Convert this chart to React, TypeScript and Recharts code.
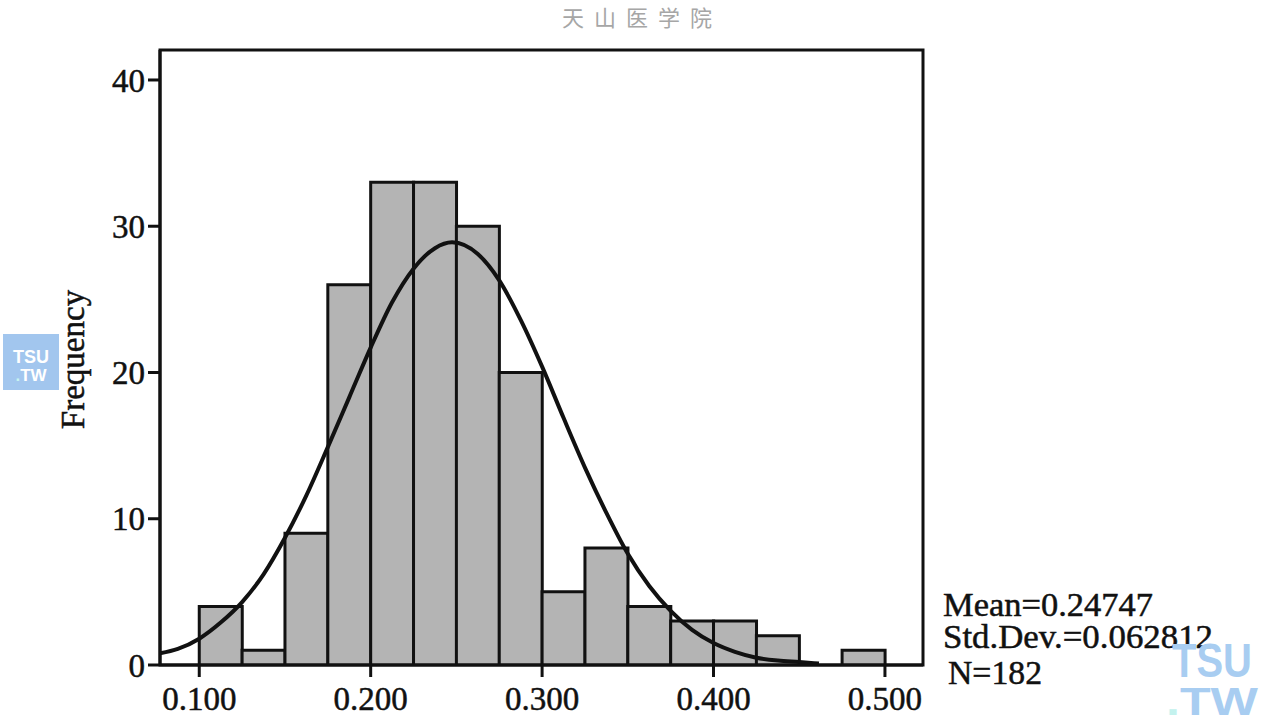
import React from 'react';
import { ComposedChart, Bar, Line, XAxis, YAxis, ReferenceArea } from 'recharts';

// histogram bins (width 0.025), midpoints and counts
const binMids = [
  0.1125, 0.1375, 0.1625, 0.1875, 0.2125, 0.2375, 0.2625, 0.2875,
  0.3125, 0.3375, 0.3625, 0.3875, 0.4125, 0.4375, 0.4625, 0.4875,
];
const binCounts = [4, 1, 9, 26, 33, 33, 30, 20, 5, 8, 4, 3, 3, 2, 0, 1];

// fitted normal curve
const curveX = [
  0.0771, 0.0875, 0.1, 0.1125, 0.125, 0.1375, 0.15, 0.1625, 0.175, 0.1875,
  0.2, 0.2125, 0.225, 0.2375, 0.2475, 0.2625, 0.275, 0.2875, 0.3, 0.3125,
  0.325, 0.3375, 0.35, 0.3625, 0.375, 0.3875, 0.4, 0.4125, 0.425, 0.4375,
  0.45, 0.4615,
];
const curveY = [
  0.8, 1.1, 1.8, 2.9, 4.3, 6.2, 8.7, 11.6, 14.9, 18.3,
  21.7, 24.8, 27.1, 28.5, 28.9, 28.1, 26.3, 23.6, 20.4, 16.9,
  13.5, 10.4, 7.6, 5.4, 3.7, 2.4, 1.5, 0.9, 0.5, 0.3,
  0.2, 0.1,
];

const xTicks = [0.1, 0.2, 0.3, 0.4, 0.5];
const yTicks = [0, 10, 20, 30, 40];
const xDomain = [0.0771, 0.5222];
const yDomain = [0, 42.05];

const statLines = ['Mean=0.24747', 'Std.Dev.=0.062812', 'N=182'];

const bins = binMids.map((mid, i) => ({ mid, count: binCounts[i] }));
const curve = curveX.map((x, i) => ({ x, y: curveY[i] }));

const serif = '"Liberation Serif", "Times New Roman", serif';
// a thin outline makes the regular serif look as heavy as the original
const tickStyle = { fontFamily: serif, fontSize: 33, fill: '#111', stroke: '#111', strokeWidth: 0.5 };

function FreqLabel({ viewBox }: any) {
  const cx = viewBox.x + 13;
  const cy = viewBox.y + viewBox.height / 2 + 2;
  return (
    <text
      x={cx}
      y={cy}
      transform={`rotate(-90 ${cx} ${cy})`}
      textAnchor="middle"
      dominantBaseline="central"
      style={{ fontFamily: serif, fontSize: 33, fill: '#111', stroke: '#111', strokeWidth: 0.5 }}
    >
      Frequency
    </text>
  );
}

export default function App() {
  return (
    <div style={{ position: 'absolute', left: 0, top: 0, width: 1276, height: 727, background: '#fff' }}>
      <ComposedChart
        width={1276}
        height={727}
        data={bins}
        margin={{ top: 50, right: 353, bottom: 0, left: 60 }}
        barCategoryGap={0}
        barGap={0}
      >
        <XAxis
          xAxisId="bins"
          dataKey="mid"
          type="number"
          domain={xDomain}
          allowDataOverflow
          ticks={xTicks}
          tickFormatter={(v: number) => v.toFixed(3)}
          height={62}
          tickSize={12}
          tickMargin={10}
          tick={tickStyle}
          axisLine={{ stroke: '#111', strokeWidth: 3 }}
          tickLine={{ stroke: '#111', strokeWidth: 3 }}
        />
        <XAxis
          xAxisId="fit"
          dataKey="x"
          type="number"
          domain={xDomain}
          allowDataOverflow
          hide
        />
        <YAxis
          type="number"
          domain={yDomain}
          allowDataOverflow
          ticks={yTicks}
          width={100}
          tickSize={12}
          tickMargin={3}
          tick={tickStyle}
          axisLine={{ stroke: '#111', strokeWidth: 3 }}
          tickLine={{ stroke: '#111', strokeWidth: 3 }}
          label={<FreqLabel />}
        />
        <Bar
          xAxisId="bins"
          dataKey="count"
          fill="#b4b4b4"
          stroke="#111"
          strokeWidth={3}
          isAnimationActive={false}
        />
        <Line
          xAxisId="fit"
          data={curve}
          dataKey="y"
          type="monotone"
          stroke="#111"
          strokeWidth={4}
          dot={false}
          activeDot={false}
          isAnimationActive={false}
        />
        <ReferenceArea
          xAxisId="bins"
          x1={xDomain[0]}
          x2={xDomain[1]}
          y1={yDomain[0]}
          y2={yDomain[1]}
          fill="none"
          fillOpacity={0}
          stroke="#111"
          strokeWidth={3}
          ifOverflow="visible"
        />
      </ComposedChart>

      <svg
        width={1276}
        height={727}
        style={{ position: 'absolute', left: 0, top: 0, pointerEvents: 'none' }}
      >
        <text
          x={562}
          y={26}
          style={{ fontFamily: '"Noto Sans CJK SC", sans-serif', fontSize: 22, fill: '#a6a6a6', letterSpacing: 10 }}
        >
          天山医学院
        </text>

        {statLines.map((s, i) => (
          <text
            key={s}
            x={i === 2 ? 948 : 943}
            y={[616, 648, 684][i]}
            textLength={[210, 270, 94][i]}
            lengthAdjust="spacingAndGlyphs"
            style={{ fontFamily: serif, fontSize: 34, fill: '#111', stroke: '#111', strokeWidth: 0.5 }}
          >
            {s}
          </text>
        ))}

        <rect x={3} y={334} width={56} height={56} fill="#a2c6ee" />
        <text
          x={31}
          y={363}
          textAnchor="middle"
          style={{ fontFamily: '"Liberation Sans", Arial, sans-serif', fontWeight: 700, fontSize: 18, fill: '#fff' }}
        >
          TSU
        </text>
        <text
          x={31}
          y={381}
          textAnchor="middle"
          style={{ fontFamily: '"Liberation Sans", Arial, sans-serif', fontWeight: 700, fontSize: 17, fill: '#fff' }}
        >
          <tspan fill="#c8f4f0">.</tspan>TW
        </text>

        <text
          x={1172}
          y={677}
          textLength={80}
          lengthAdjust="spacingAndGlyphs"
          style={{ fontFamily: '"Liberation Sans", Arial, sans-serif', fontWeight: 700, fontSize: 48, fill: '#a8cdf1' }}
        >
          TSU
        </text>
        <text
          x={1166}
          y={715}
          textLength={92}
          lengthAdjust="spacingAndGlyphs"
          style={{ fontFamily: '"Liberation Sans", Arial, sans-serif', fontWeight: 700, fontSize: 38, fill: '#a8cdf1' }}
        >
          <tspan fill="#c4f2ee">.</tspan>TW
        </text>
      </svg>
    </div>
  );
}
